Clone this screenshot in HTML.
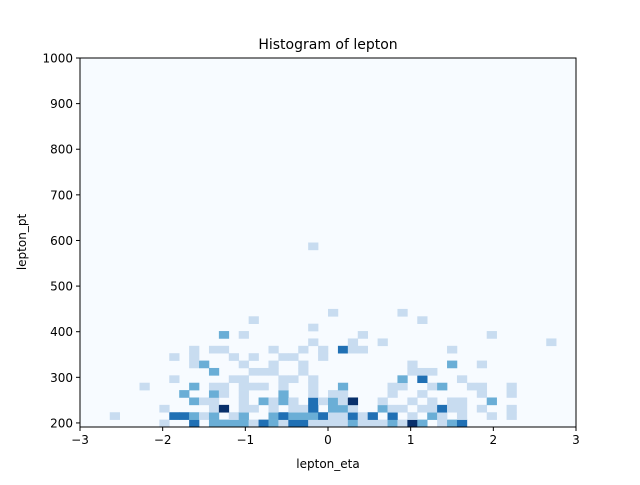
<!DOCTYPE html>
<html><head><meta charset="utf-8"><style>
body{margin:0;background:#fff;width:640px;height:480px;overflow:hidden}
svg text{font-family:"DejaVu Sans","Liberation Sans",sans-serif}
</style></head><body>
<svg id="chart" width="640" height="480" xmlns="http://www.w3.org/2000/svg">
<rect x="0" y="0" width="640" height="480" fill="#fff"/>
<rect x="80" y="58" width="496" height="369" fill="#f7fbff"/>
<g id="cells"></g>
<g id="axes"></g>
<text x="328" y="49" text-anchor="middle" font-size="14">Histogram of lepton</text>
<text x="328" y="468" text-anchor="middle" font-size="12">lepton_eta</text>
<text x="0" y="0" transform="translate(26,242) rotate(-90)" text-anchor="middle" font-size="12">lepton_pt</text>
</svg>
<script>
const xTicks=[-3,-2,-1,0,1,2,3];
const yTicks=[200,300,400,500,600,700,800,900,1000];
const ptRows=[199,215,231,248,264,280,296,312,329,345,361,377,393,409,426,442,587];
const etaByRow=[
[-1.98,-1.62,-1.38,-1.26,-1.14,-1.02,-0.90,-0.78,-0.66,-0.54,-0.42,-0.30,-0.18,-0.06,0.06,0.18,0.30,0.42,0.54,0.66,0.78,0.90,1.02,1.14,1.38,1.50,1.62],
[-2.58,-1.86,-1.74,-1.62,-1.50,-1.38,-1.14,-1.02,-0.66,-0.54,-0.42,-0.30,-0.18,-0.06,0.06,0.18,0.30,0.42,0.54,0.78,1.02,1.26,1.38,1.62,1.98,2.22],
[-1.98,-1.38,-1.26,-1.02,-0.90,-0.66,-0.42,-0.30,-0.18,0.06,0.18,0.30,0.66,0.78,0.90,1.14,1.26,1.38,1.50,1.62,1.86,2.22],
[-1.62,-1.50,-1.38,-1.02,-0.78,-0.66,-0.54,-0.42,-0.18,-0.06,0.06,0.18,0.30,0.66,1.02,1.26,1.50,1.62,1.98],
[-1.74,-1.38,-1.26,-1.02,-0.54,-0.18,0.06,0.18,0.78,1.14,1.86,2.22],
[-2.22,-1.62,-1.38,-1.26,-1.02,-0.90,-0.78,-0.54,-0.18,0.18,0.78,0.90,1.26,1.38,1.74,1.86,2.22],
[-1.86,-1.14,-1.02,-0.54,-0.42,-0.18,0.90,1.14,1.62],
[-1.38,-0.90,-0.78,-0.66,-0.30,1.02,1.14,1.26],
[-1.62,-1.50,-1.02,-0.66,-0.30,1.02,1.50,1.86],
[-1.86,-1.62,-1.14,-0.90,-0.54,-0.42,-0.06],
[-1.62,-1.38,-1.26,-0.66,-0.30,-0.06,0.18,0.30,0.42,1.50],
[-0.18,0.30,0.66,2.70],
[-1.26,-1.02,0.42,1.98],
[-0.18],
[-0.90,1.14],
[0.06,0.90],
[-0.18]];
const countByRow=[
[1,3,2,2,2,2,1,3,2,1,3,3,1,1,1,1,2,1,1,1,2,1,4,2,1,2,3],
[1,3,3,2,1,2,1,2,2,3,2,2,2,3,1,1,3,1,3,3,1,2,1,1,1,1],
[1,1,4,1,1,1,1,1,3,2,2,1,2,1,1,1,1,3,1,1,1,1],
[2,1,1,1,2,1,2,1,3,1,2,1,4,1,1,1,1,1,2],
[2,2,1,1,2,1,1,1,1,1,1,1],
[1,2,1,1,1,1,1,1,1,2,1,1,1,2,1,1,1],
[1,1,1,1,1,1,2,3,1],
[2,1,1,1,1,1,1,1],
[1,2,1,1,1,1,2,1],
[1,1,1,1,1,1,1],
[1,1,1,1,1,1,3,1,1,1],
[1,1,1,1],
[2,1,1,1],
[1],
[1,1],
[1,1],
[1]];
const NS="http://www.w3.org/2000/svg";
const X0=80,X1=576,Y0=427,Y1=58,XMIN=-3,XMAX=3,YMIN=191.1,YMAX=1000,NB=50;
function xs(v){return X0+(v-XMIN)/(XMAX-XMIN)*(X1-X0);}
function ys(v){return Y0-(v-YMIN)/(YMAX-YMIN)*(Y0-Y1);}
const palette=["#f7fbff","#c8dcf0","#6aaed6","#2070b4","#08306b"];
const maxC=4;
const cells=document.getElementById('cells');
const bw=(XMAX-XMIN)/NB,bh=(YMAX-YMIN)/NB;
ptRows.forEach((pt,ri)=>{
  etaByRow[ri].forEach((eta,ci)=>{
    const c=countByRow[ri][ci];
    const bx=XMIN+Math.floor((eta-XMIN)/bw)*bw;
    const by=YMIN+Math.floor((pt-YMIN)/bh)*bh;
    const r=document.createElementNS(NS,'rect');
    r.setAttribute('x',xs(bx));
    r.setAttribute('y',ys(by+bh));
    r.setAttribute('width',xs(bx+bw)-xs(bx)+0.3);
    r.setAttribute('height',ys(by)-ys(by+bh)+0.3);
    r.setAttribute('fill',palette[Math.min(maxC,Math.round(c/maxC*4))]);
    
    
    cells.appendChild(r);
  });
});
const axes=document.getElementById('axes');
function el(tag,attrs){const e=document.createElementNS(NS,tag);for(const k in attrs)e.setAttribute(k,attrs[k]);axes.appendChild(e);return e;}
const frame=el('rect',{x:X0,y:Y1,width:X1-X0,height:Y0-Y1,fill:'none',stroke:'#000','stroke-width':1});


xTicks.forEach(t=>{
  const x=xs(t);
  const l=el('line',{x1:x,y1:Y0,x2:x,y2:Y0+4,stroke:'#000'});
  
  
  const tx=el('text',{x:x,y:Y0+17,'text-anchor':'middle','font-size':12});
  tx.textContent=t<0?'\u2212'+(-t):String(t);
  
  
});
yTicks.forEach(t=>{
  const y=ys(t);
  const l=el('line',{x1:X0-4,y1:y,x2:X0,y2:y,stroke:'#000'});
  
  
  const tx=el('text',{x:X0-7,y:y+4.5,'text-anchor':'end','font-size':12});
  tx.textContent=String(t);
  
  
});
</script>
</body></html>
